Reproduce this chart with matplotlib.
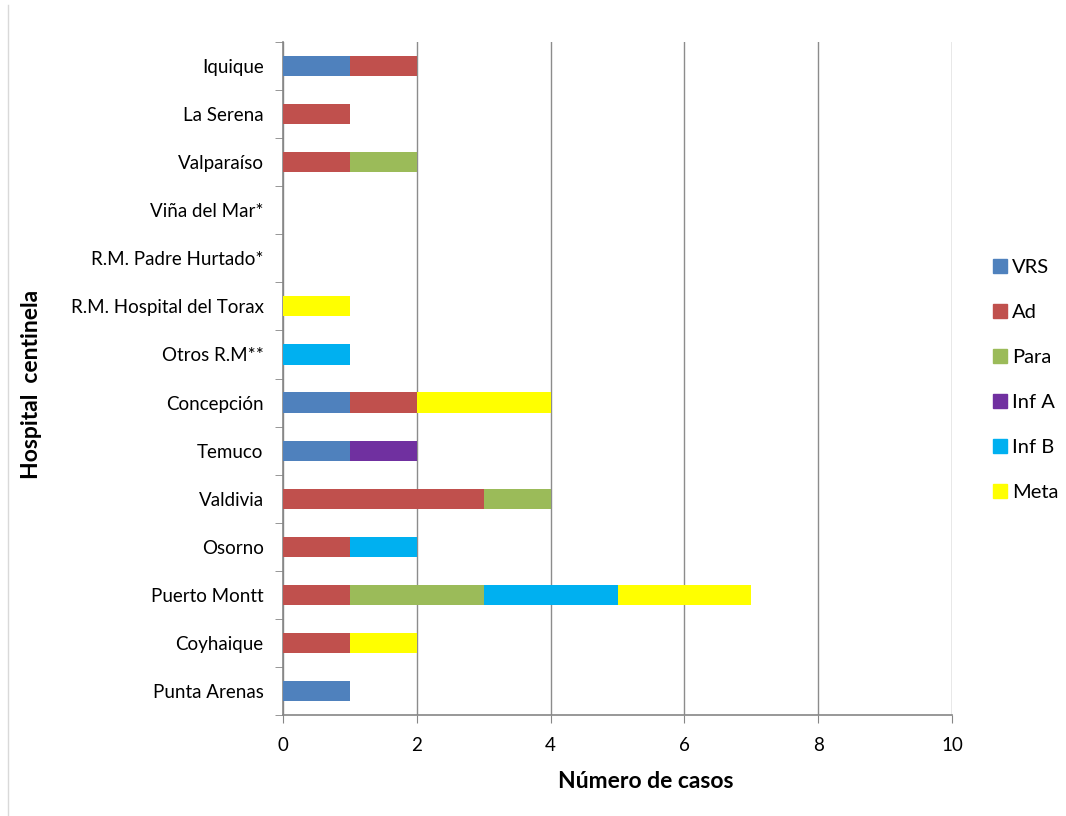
import numpy as np
import matplotlib.pyplot as plt
from matplotlib.lines import Line2D

plt.rcParams['font.family'] = ['Lato', 'DejaVu Sans']

hospitales = ['Iquique', 'La Serena', 'Valparaíso', 'Viña del Mar*',
              'R.M. Padre Hurtado*', 'R.M. Hospital del Torax', 'Otros R.M**',
              'Concepción', 'Temuco', 'Valdivia', 'Osorno', 'Puerto Montt',
              'Coyhaique', 'Punta Arenas']

series = ['VRS', 'Ad', 'Para', 'Inf A', 'Inf B', 'Meta']
colores = ['#4F81BD', '#C0504D', '#9BBB59', '#7030A0', '#00B0F0', '#FFFF00']

vrs = [1, 0, 0, 0, 0, 0, 0, 1, 1, 0, 0, 0, 0, 1]
ad = [1, 1, 1, 0, 0, 0, 0, 1, 0, 3, 1, 1, 1, 0]
para = [0, 0, 1, 0, 0, 0, 0, 0, 0, 1, 0, 2, 0, 0]
inf_a = [0, 0, 0, 0, 0, 0, 0, 0, 1, 0, 0, 0, 0, 0]
inf_b = [0, 0, 0, 0, 0, 0, 1, 0, 0, 0, 1, 2, 0, 0]
meta = [0, 0, 0, 0, 0, 1, 0, 2, 0, 0, 0, 2, 1, 0]

valores = [vrs, ad, para, inf_a, inf_b, meta]

fig = plt.figure(figsize=(10.66, 8.16), dpi=100)
ax = fig.add_axes([0.2655, 0.1238, 0.6276, 0.8247])

y = np.arange(len(hospitales))
izq = np.zeros(len(hospitales))
for nombre, col, vals in zip(series, colores, valores):
    ax.barh(y, vals, left=izq, height=0.42, color=col, label=nombre, zorder=3)
    izq += np.array(vals)

ax.set_xlim(0, 10)
ax.set_ylim(len(hospitales) - 0.5, -0.5)
ax.set_xticks(range(0, 11, 2))
ax.set_yticks(y)
ax.set_yticklabels(hospitales)
ax.set_yticks(np.arange(-0.5, len(hospitales)), minor=True)
ax.tick_params(axis='y', which='major', length=0, pad=14, labelsize=13.5)
ax.tick_params(axis='y', which='minor', length=6, color='#868686', direction='out')
ax.tick_params(axis='x', length=6, color='#868686', labelsize=13.5, pad=10)
ax.grid(axis='x', color='#8c8c8c', linewidth=1, zorder=0)
for s in ['top', 'right']:
    ax.spines[s].set_visible(False)
for s in ['left', 'bottom']:
    ax.spines[s].set_color('#868686')
    ax.spines[s].set_linewidth(1.2)

fig.text(646 / 1066, 1 - 782 / 816, 'Número de casos', ha='center', va='center',
         fontsize=16.5, fontweight='bold')
fig.text(32 / 1066, 1 - 384 / 816, 'Hospital  centinela', ha='center', va='center',
         rotation=90, fontsize=16.5, fontweight='bold')

handles = [Line2D([0], [0], marker='s', linestyle='', markersize=10,
                  markerfacecolor=c, markeredgecolor=c) for c in colores]
fig.legend(handles, series, loc='center left', bbox_to_anchor=(972 / 1066, 1 - 380 / 816),
           frameon=False, fontsize=14.5, labelspacing=1.38, handletextpad=0.1,
           handlelength=1.0)

fig.add_artist(Line2D([8 / 1066, 8 / 1066], [0, 1 - 5 / 816], color='#d9d9d9', linewidth=1))

fig.savefig('out.png', dpi=100)
